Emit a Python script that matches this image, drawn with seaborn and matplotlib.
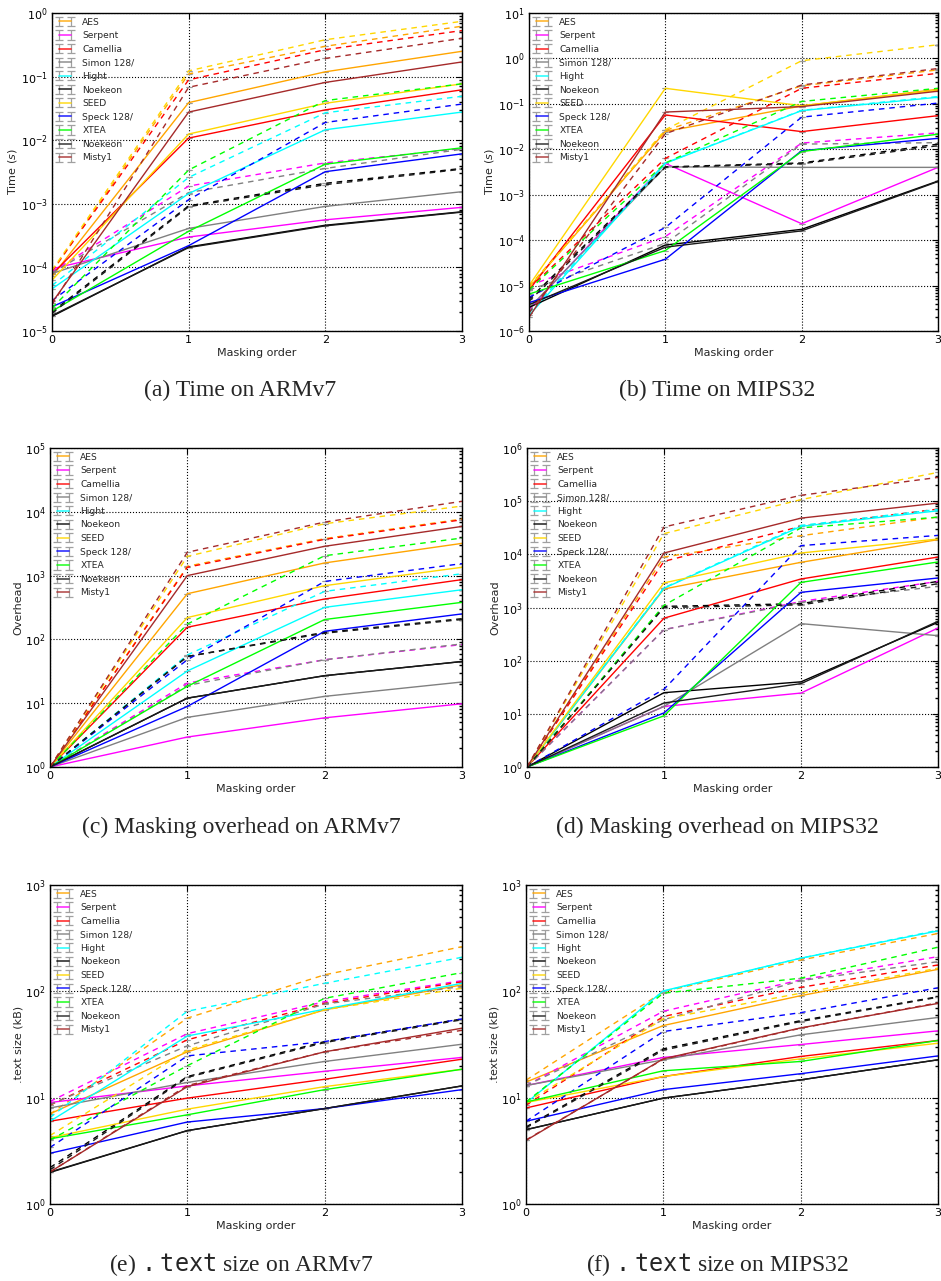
import numpy as np
import pandas as pd
import matplotlib
matplotlib.use("Agg")
import matplotlib.pyplot as plt
import seaborn as sns
from matplotlib.container import ErrorbarContainer
from matplotlib.lines import Line2D
from matplotlib.collections import LineCollection

ORDERS = [0, 1, 2, 3]
CIPHERS = ["AES", "Serpent", "Camellia", "Simon 128/", "Hight", "Noekeon",
           "SEED", "Speck 128/", "XTEA", "Noekeon", "Misty1"]
COLORS = ["#ffa500", "#ff00ff", "#ff0000", "#808080", "#00ffff", "#000000",
          "#ffd700", "#0000ff", "#00ff00", "#1a1a1a", "#a52a2a"]

# rows follow CIPHERS, columns follow ORDERS
time_arm_solid = [
    [7.2e-5, 0.039, 0.119, 0.25],
    [9.5e-5, 3.0e-4, 5.6e-4, 8.8e-4],
    [7.8e-5, 0.0108, 0.030, 0.062],
    [8.0e-5, 4.1e-4, 9.1e-4, 1.55e-3],
    [4.6e-5, 1.45e-3, 0.0146, 0.0277],
    [1.7e-5, 2.1e-4, 4.6e-4, 7.5e-4],
    [6.3e-5, 0.0125, 0.038, 0.077],
    [2.4e-5, 2.2e-4, 3.2e-3, 6.1e-3],
    [2.05e-5, 3.7e-4, 4.2e-3, 7.6e-3],
    [1.75e-5, 2.05e-4, 4.5e-4, 7.4e-4],
    [2.8e-5, 0.0277, 0.081, 0.17],
]
time_arm_dashed = [
    [8.5e-5, 0.11, 0.30, 0.62],
    [8.5e-5, 1.9e-3, 4.4e-3, 7.4e-3],
    [8.8e-5, 0.089, 0.265, 0.53],
    [8.2e-5, 1.5e-3, 3.6e-3, 7.2e-3],
    [5.2e-5, 2.6e-3, 0.027, 0.049],
    [2.0e-5, 9.3e-4, 2.1e-3, 3.6e-3],
    [9.0e-5, 0.123, 0.38, 0.74],
    [3.0e-5, 1.16e-3, 0.019, 0.037],
    [2.3e-5, 3.4e-3, 0.042, 0.077],
    [1.9e-5, 9.0e-4, 2.0e-3, 3.5e-3],
    [2.6e-5, 0.068, 0.193, 0.40],
]
time_mips_solid = [
    [9.0e-6, 0.0246, 0.090, 0.21],
    [3.0e-6, 4.9e-3, 2.3e-4, 4.0e-3],
    [8.0e-6, 0.057, 0.0245, 0.055],
    [3.2e-6, 4.1e-3, 4.0e-3, 4.0e-3],
    [2.2e-6, 4.9e-3, 0.071, 0.14],
    [3.3e-6, 7.8e-5, 1.73e-4, 2.0e-3],
    [1.0e-5, 0.22, 0.091, 0.20],
    [4.2e-6, 3.8e-5, 9.3e-3, 0.0174],
    [6.5e-6, 5.9e-5, 8.9e-3, 0.0215],
    [3.8e-6, 7.0e-5, 1.6e-4, 1.95e-3],
    [2.0e-6, 0.066, 0.087, 0.19],
]
time_mips_dashed = [
    [9.5e-6, 0.026, 0.25, 0.56],
    [1.0e-5, 1.2e-4, 0.0137, 0.023],
    [8.5e-6, 6.3e-3, 0.22, 0.47],
    [8.0e-6, 8.5e-5, 0.013, 0.014],
    [2.5e-6, 5.0e-3, 0.072, 0.145],
    [5.0e-6, 4.1e-3, 5.0e-3, 0.013],
    [9.0e-6, 0.027, 0.89, 2.0],
    [5.5e-6, 1.9e-4, 0.051, 0.104],
    [8.0e-6, 5.0e-3, 0.113, 0.22],
    [4.5e-6, 4.0e-3, 4.8e-3, 0.012],
    [2.5e-6, 0.022, 0.26, 0.60],
]
ovh_arm_solid = [
    [1, 520, 1580, 3200],
    [1, 2.95, 5.9, 9.8],
    [1, 155, 430, 865],
    [1, 6.0, 12.8, 21.5],
    [1, 32, 318, 600],
    [1, 12, 27, 45],
    [1, 220, 695, 1350],
    [1, 8.9, 134, 251],
    [1, 18.4, 205, 381],
    [1, 12, 27, 45],
    [1, 1000, 2880, 5900],
]
ovh_arm_dashed = [
    [1, 1400, 3800, 7700],
    [1, 20.7, 48, 83],
    [1, 1350, 3700, 7500],
    [1, 19, 48, 85],
    [1, 57, 566, 1070],
    [1, 54, 129, 211],
    [1, 2000, 6500, 12300],
    [1, 48, 810, 1540],
    [1, 174, 2050, 3880],
    [1, 54, 125, 205],
    [1, 2320, 6900, 14600],
]
ovh_mips_solid = [
    [1, 2230, 7080, 18900],
    [1, 13.8, 24.6, 412],
    [1, 630, 3440, 8900],
    [1, 13.8, 497, 295],
    [1, 2300, 33600, 66000],
    [1, 25, 40, 525],
    [1, 2900, 10600, 19400],
    [1, 10.4, 1930, 3590],
    [1, 9.2, 2970, 7180],
    [1, 16, 37, 550],
    [1, 10600, 48000, 92000],
]
ovh_mips_dashed = [
    [1, 8900, 22400, 50400],
    [1, 383, 1300, 3100],
    [1, 7380, 33600, 71000],
    [1, 383, 1250, 2500],
    [1, 2350, 35000, 70000],
    [1, 1050, 1180, 3100],
    [1, 24500, 107000, 348000],
    [1, 29, 14600, 22700],
    [1, 1100, 31500, 50000],
    [1, 1000, 1120, 2800],
    [1, 32700, 129000, 280000],
]
text_arm_solid = [
    [7.05, 27, 67, 115],
    [9.0, 12.9, 17.7, 23.9],
    [6.0, 9.9, 14.9, 23],
    [8.0, 13.9, 21.9, 31.8],
    [6.0, 38, 68, 119],
    [1.98, 4.9, 7.9, 12.9],
    [4.2, 7.8, 12.7, 18.5],
    [3.0, 5.9, 7.9, 11.9],
    [4.1, 6.9, 11.9, 18.5],
    [2.0, 4.9, 7.9, 12.9],
    [2.0, 12.7, 27, 45],
]
text_arm_dashed = [
    [7.0, 56, 143, 263],
    [9.2, 40, 80, 126],
    [8.5, 35, 77, 123],
    [8.6, 30.7, 76, 111],
    [6.5, 65, 119, 209],
    [2.2, 15.8, 33.7, 55],
    [4.4, 28, 67, 107],
    [3.4, 24.7, 33.7, 55],
    [4.0, 20, 86, 150],
    [2.1, 15.5, 33, 54],
    [2.0, 13, 27, 43],
]
text_mips_solid = [
    [14, 47.7, 91, 161],
    [13, 23.9, 31.6, 42.5],
    [8.0, 15.8, 24.4, 34.5],
    [13, 22.7, 39, 56.8],
    [8.9, 101, 205, 370],
    [5.0, 9.9, 14.7, 22.7],
    [9.0, 15.8, 23.2, 32.5],
    [6.0, 11.9, 16.8, 24.7],
    [9.1, 17.9, 21.9, 34.5],
    [5.0, 9.9, 14.7, 22.7],
    [3.96, 23.2, 45.3, 77],
]
text_mips_dashed = [
    [14.6, 99, 197, 350],
    [13, 65, 128, 212],
    [8.5, 58, 109, 177],
    [13, 54, 126, 190],
    [9.0, 100, 205, 375],
    [5.3, 28.8, 53, 89],
    [9.0, 55, 96, 165],
    [6.0, 41.9, 63, 108],
    [9.1, 96, 133, 260],
    [5.2, 28, 52, 88],
    [4.0, 23, 45, 78],
]

PANELS = [
    (time_arm_solid, time_arm_dashed, "Time ($s$)", (1e-5, 1e0), "(a) Time on ARMv7"),
    (time_mips_solid, time_mips_dashed, "Time ($s$)", (1e-6, 1e1), "(b) Time on MIPS32"),
    (ovh_arm_solid, ovh_arm_dashed, "Overhead", (1e0, 1e5), "(c) Masking overhead on ARMv7"),
    (ovh_mips_solid, ovh_mips_dashed, "Overhead", (1e0, 1e6), "(d) Masking overhead on MIPS32"),
    (text_arm_solid, text_arm_dashed, ".text size (kB)", (1e0, 1e3), r"(e) $\mathtt{.text}$ size on ARMv7"),
    (text_mips_solid, text_mips_dashed, ".text size (kB)", (1e0, 1e3), r"(f) $\mathtt{.text}$ size on MIPS32"),
]

# axes boxes in pixels: left, top, right, bottom
BOXES = [(52, 13, 462, 331), (529, 13, 938, 331),
         (50, 448, 462, 767), (527, 448, 938, 767),
         (50, 885, 462, 1204), (526, 885, 938, 1204)]
CAPTION_POS = [(240, 390), (717, 390), (241, 827), (717, 827), (241, 1265), (717, 1265)]

W, H = 941, 1281
KEYS = [f"c{i}" for i in range(len(CIPHERS))]
PALETTE = dict(zip(KEYS, COLORS))

sns.set_theme(style="white")
plt.rcParams.update({
    "font.family": "DejaVu Sans",
    "xtick.direction": "in", "ytick.direction": "in",
    "xtick.top": True, "ytick.right": True,
    "xtick.major.size": 4, "ytick.major.size": 4,
    "ytick.minor.size": 2, "ytick.minor.visible": True,
    "xtick.major.width": 0.8, "ytick.major.width": 0.8,
    "axes.edgecolor": "black", "axes.linewidth": 1.0,
    "xtick.color": "black", "ytick.color": "black",
    "mathtext.fontset": "dejavusans",
})


def make_frame(solid, dashed):
    rows = []
    for kind, table in (("solid", solid), ("dashed", dashed)):
        for key, vals in zip(KEYS, table):
            for x, v in zip(ORDERS, vals):
                rows.append({"order": x, "value": v, "key": key, "kind": kind})
    return pd.DataFrame(rows)


def legend_handle(color):
    line = Line2D([], [], color=color, lw=1.3, alpha=0.75)
    cap = Line2D([], [], color="#a0a0a0", marker="_", markersize=6, mew=0.9, lw=0)
    bars = LineCollection([], colors="#a0a0a0", linewidths=0.9)
    return ErrorbarContainer((line, (cap, cap), (bars,)), has_xerr=False, has_yerr=True)


fig = plt.figure(figsize=(W / 100, H / 100), dpi=100)

for (solid, dashed, ylabel, ylim, caption), box, cpos in zip(PANELS, BOXES, CAPTION_POS):
    l, t, r, b = box
    ax = fig.add_axes([l / W, 1 - b / H, (r - l) / W, (b - t) / H])
    df = make_frame(solid, dashed)
    ax.set_yscale("log")
    ax.errorbar(df["order"], df["value"], yerr=np.zeros(len(df)), fmt="none",
                ecolor="#999999", capsize=2.5, elinewidth=0.8, capthick=0.8, zorder=1.5)
    sns.lineplot(data=df, x="order", y="value", hue="key", style="kind",
                 hue_order=KEYS, style_order=["solid", "dashed"],
                 palette=PALETTE, dashes={"solid": "", "dashed": (4, 3.5)},
                 estimator=None, errorbar=None, legend=False, lw=1.0, ax=ax)
    ax.set_xlim(0, 3)
    ax.set_ylim(*ylim)
    ax.set_xticks(ORDERS)
    ax.grid(True, which="major", ls=":", color="black", lw=0.8)
    ax.tick_params(labelsize=8, pad=3)
    ax.set_xlabel("Masking order", fontsize=8, labelpad=2)
    ax.set_ylabel(ylabel, fontsize=8, labelpad=1)
    ax.legend([legend_handle(c) for c in COLORS], CIPHERS, loc="upper left",
              frameon=False, fontsize=6.6, numpoints=2, handlelength=1.9,
              handletextpad=0.9, labelspacing=0.5, borderaxespad=0.25,
              borderpad=0.25)
    fig.text(cpos[0] / W, 1 - cpos[1] / H, caption, ha="center", va="center",
             fontsize=17, family="Liberation Serif")

fig.savefig("out.png", dpi=100)
